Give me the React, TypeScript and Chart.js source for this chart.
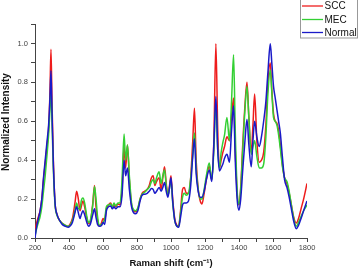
import React, { useEffect, useRef } from 'react';
import { Chart, registerables } from 'chart.js';

Chart.register(...registerables);

// Raman shift (cm-1)
const ramanShift = [
  200, 210, 220, 230, 240, 250, 260, 270, 280, 288, 294, 300, 308, 318, 330, 345, 360, 380, 395, 405,
  420, 435, 445, 455, 465, 472, 482, 492, 505, 515, 525, 540, 550, 558, 568, 580, 592, 600, 610, 620,
  632, 645, 655, 665, 675, 688, 700, 712, 724, 733, 744, 755, 768, 780, 792, 805, 818, 830, 845, 860,
  872, 885, 895, 905, 915, 930, 942, 952, 962, 972, 982, 990, 1000, 1010, 1022, 1035, 1045, 1055, 1068, 1078,
  1090, 1103, 1115, 1128, 1138, 1148, 1160, 1172, 1182, 1195, 1208, 1225, 1240, 1252, 1264, 1275, 1285, 1295, 1305, 1315,
  1329, 1344, 1356, 1368, 1378, 1390, 1400, 1410, 1422, 1435, 1447, 1458, 1472, 1482, 1492, 1505, 1519, 1532, 1545, 1558,
  1570, 1584, 1593, 1603, 1613, 1623, 1633, 1643, 1655, 1668, 1682, 1695, 1708, 1721, 1737, 1750, 1765, 1780, 1800,
];

const scc = [
  0.04, 0.08, 0.11, 0.14, 0.2, 0.3, 0.38, 0.47, 0.56, 0.75, 0.97, 0.7, 0.4, 0.18, 0.12, 0.09, 0.075, 0.065, 0.06, 0.07,
  0.1, 0.18, 0.24, 0.2, 0.14, 0.16, 0.19, 0.16, 0.1, 0.075, 0.08, 0.18, 0.27, 0.17, 0.09, 0.06, 0.08, 0.1, 0.09, 0.15,
  0.17, 0.18, 0.16, 0.175, 0.16, 0.175, 0.17, 0.25, 0.47, 0.36, 0.478, 0.3, 0.17, 0.14, 0.135, 0.15, 0.2, 0.23, 0.24, 0.25,
  0.27, 0.31, 0.32, 0.27, 0.29, 0.31, 0.25, 0.31, 0.366, 0.28, 0.22, 0.26, 0.32, 0.2, 0.1, 0.065, 0.06, 0.13, 0.25, 0.26,
  0.23, 0.23, 0.3, 0.5, 0.667, 0.4, 0.25, 0.19, 0.175, 0.23, 0.3, 0.37, 0.3, 0.5, 0.998, 0.55, 0.36, 0.4, 0.44, 0.47,
  0.52, 0.5, 0.62, 0.72, 0.45, 0.22, 0.17, 0.26, 0.48, 0.68, 0.8, 0.62, 0.44, 0.58, 0.74, 0.5, 0.39, 0.4, 0.44, 0.58,
  0.8, 0.899, 0.76, 0.64, 0.6, 0.59, 0.55, 0.48, 0.38, 0.31, 0.28, 0.23, 0.17, 0.11, 0.077, 0.1, 0.15, 0.2, 0.28,
];

const mec = [
  0.01, 0.05, 0.08, 0.11, 0.16, 0.24, 0.32, 0.42, 0.53, 0.66, 0.775, 0.6, 0.35, 0.17, 0.115, 0.09, 0.075, 0.065, 0.06, 0.065,
  0.09, 0.14, 0.18, 0.15, 0.15, 0.19, 0.205, 0.18, 0.11, 0.08, 0.09, 0.17, 0.265, 0.21, 0.11, 0.065, 0.07, 0.08, 0.1, 0.16,
  0.17, 0.175, 0.16, 0.18, 0.165, 0.18, 0.18, 0.3, 0.535, 0.4, 0.478, 0.32, 0.18, 0.145, 0.14, 0.155, 0.2, 0.225, 0.235, 0.25,
  0.26, 0.29, 0.3, 0.28, 0.31, 0.34, 0.28, 0.32, 0.35, 0.27, 0.22, 0.25, 0.3, 0.18, 0.09, 0.06, 0.06, 0.12, 0.21, 0.23,
  0.22, 0.23, 0.3, 0.43, 0.54, 0.36, 0.25, 0.2, 0.2, 0.25, 0.32, 0.385, 0.3, 0.45, 0.69, 0.45, 0.36, 0.44, 0.49, 0.53,
  0.62, 0.5, 0.7, 0.942, 0.55, 0.23, 0.175, 0.25, 0.45, 0.66, 0.78, 0.62, 0.43, 0.47, 0.5, 0.42, 0.36, 0.36, 0.38, 0.52,
  0.74, 0.864, 0.75, 0.62, 0.6, 0.58, 0.53, 0.46, 0.37, 0.31, 0.29, 0.24, 0.17, 0.105, 0.06, 0.08, 0.11, 0.14, 0.17,
];

const normal = [
  0.0, 0.06, 0.1, 0.14, 0.2, 0.31, 0.4, 0.49, 0.58, 0.72, 0.86, 0.65, 0.38, 0.18, 0.12, 0.09, 0.07, 0.06, 0.055, 0.06,
  0.08, 0.13, 0.16, 0.13, 0.1, 0.12, 0.14, 0.12, 0.08, 0.06, 0.07, 0.12, 0.15, 0.11, 0.07, 0.06, 0.065, 0.08, 0.07, 0.14,
  0.16, 0.165, 0.15, 0.16, 0.15, 0.16, 0.16, 0.22, 0.4, 0.32, 0.36, 0.25, 0.16, 0.13, 0.125, 0.14, 0.19, 0.22, 0.225, 0.23,
  0.24, 0.255, 0.25, 0.23, 0.24, 0.26, 0.24, 0.26, 0.285, 0.24, 0.21, 0.25, 0.31, 0.19, 0.09, 0.06, 0.055, 0.1, 0.17, 0.18,
  0.18, 0.19, 0.26, 0.42, 0.51, 0.33, 0.24, 0.21, 0.21, 0.24, 0.3, 0.35, 0.29, 0.48, 0.727, 0.45, 0.345, 0.36, 0.38, 0.41,
  0.43, 0.39, 0.55, 0.68, 0.4, 0.19, 0.143, 0.2, 0.35, 0.5, 0.61, 0.48, 0.366, 0.5, 0.6, 0.52, 0.47, 0.52, 0.6, 0.7,
  0.85, 0.998, 0.9, 0.78, 0.72, 0.66, 0.6, 0.54, 0.42, 0.3, 0.26, 0.21, 0.15, 0.09, 0.048, 0.065, 0.1, 0.14, 0.19,
];

const seriesLabels = ['SCC', 'MEC', 'Normal'];
const seriesColors = ['#ee1c1c', '#33d033', '#1a1ac8'];
const xTitle = 'Raman shift (cm\u207B\u00B9)';
const yTitle = 'Normalized Intensity';

const FONT = "'Liberation Sans', Arial, sans-serif";

const customPlugin = {
  id: 'customDecor',
  afterDraw(chart: any) {
    const ctx = chart.ctx;
    ctx.save();
    // y axis title
    ctx.font = `bold 10px ${FONT}`;
    ctx.fillStyle = '#111';
    ctx.textAlign = 'center';
    ctx.textBaseline = 'middle';
    ctx.translate(6, 122);
    ctx.rotate(-Math.PI / 2);
    ctx.fillText(yTitle, 0, 0);
    ctx.restore();

    // legend
    ctx.save();
    ctx.fillStyle = '#fff';
    ctx.fillRect(300, -1, 57, 39);
    ctx.strokeStyle = '#999';
    ctx.lineWidth = 1;
    ctx.strokeRect(300.5, -1.5, 57, 39.5);
    const rows = [6, 19.5, 32.5];
    ctx.font = `10px ${FONT}`;
    ctx.textAlign = 'left';
    ctx.textBaseline = 'middle';
    chart.data.datasets.forEach((ds: any, i: number) => {
      ctx.strokeStyle = ds.borderColor;
      ctx.lineWidth = 1.3;
      ctx.beginPath();
      ctx.moveTo(302, rows[i]);
      ctx.lineTo(323, rows[i]);
      ctx.stroke();
      ctx.fillStyle = '#111';
      ctx.fillText(ds.label, 324.5, rows[i] + 0.5);
    });
    ctx.restore();
  },
};

export default function App() {
  const ref = useRef<HTMLCanvasElement>(null);

  useEffect(() => {
    document.body.style.margin = '0';
    const canvas = ref.current;
    if (!canvas) return;
    const seriesData = [scc, mec, normal];
    const chart = new Chart(canvas, {
      type: 'line',
      data: {
        labels: ramanShift,
        datasets: seriesData.map((vals, i) => ({
          label: seriesLabels[i],
          data: ramanShift.map((x, j) => ({ x, y: vals[j] })),
          borderColor: seriesColors[i],
          backgroundColor: seriesColors[i],
          borderWidth: 1.5,
          pointRadius: 0,
          fill: false,
          tension: 0.35,
          cubicInterpolationMode: 'monotone' as const,
          order: 2 - i,
        })),
      },
      options: {
        responsive: false,
        animation: false,
        devicePixelRatio: 1,
        layout: { padding: { top: 24, right: 51, left: 0, bottom: 0 } },
        plugins: {
          legend: { display: false },
          tooltip: { enabled: false },
        },
        scales: {
          x: {
            type: 'linear',
            min: 200,
            max: 1800,
            afterFit: (s: any) => { s.height = 33; },
            border: { display: true, color: '#444', width: 1 },
            grid: { display: true, drawOnChartArea: false, drawTicks: true, tickLength: 4, color: '#444' },
            ticks: {
              stepSize: 100,
              autoSkip: false,
              maxRotation: 0,
              padding: 1,
              color: '#444',
              font: { family: FONT, size: 7.5 },
              callback: (v: any) => (Math.round(v) % 200 === 0 ? String(Math.round(v)) : ''),
            },
            title: {
              display: true,
              text: xTitle,
              color: '#111',
              font: { family: FONT, size: 9.5, weight: 'bold' },
              padding: { top: 0, bottom: 1.5 },
            },
          },
          y: {
            type: 'linear',
            min: 0,
            max: 1.1,
            afterFit: (s: any) => { s.width = 35; },
            border: { display: true, color: '#444', width: 1 },
            grid: { display: true, drawOnChartArea: false, drawTicks: true, tickLength: 4, color: '#444' },
            ticks: {
              stepSize: 0.1,
              autoSkip: false,
              padding: 3,
              color: '#444',
              font: { family: FONT, size: 7.5 },
              callback: (v: any) => {
                const k = Math.round(Number(v) * 10);
                return k % 2 === 0 ? (k / 10).toFixed(1) : '';
              },
            },
          },
        },
      },
      plugins: [customPlugin],
    });
    return () => chart.destroy();
  }, []);

  return (
    <div style={{ width: 358, height: 271, position: 'relative' }}>
      <canvas ref={ref} width={358} height={271} style={{ display: 'block', width: 358, height: 271 }} />
    </div>
  );
}
